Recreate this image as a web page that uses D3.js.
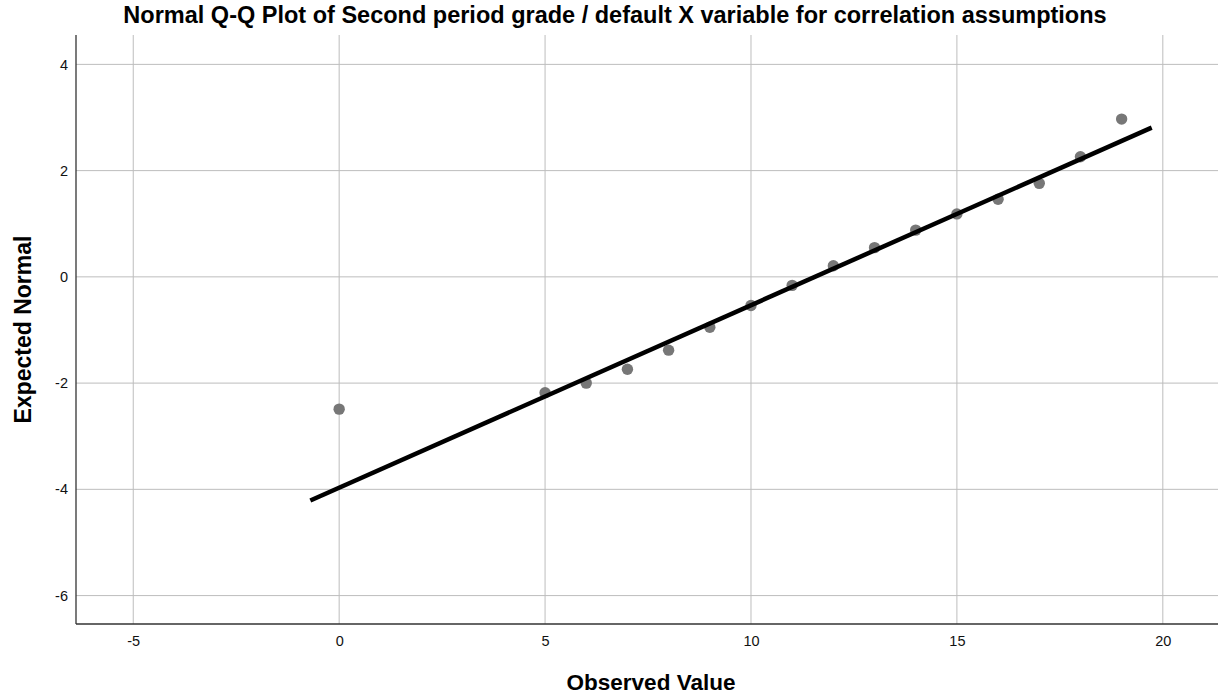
<!DOCTYPE html>
<html>
<head>
<meta charset="utf-8">
<script src="https://cdn.jsdelivr.net/npm/d3@7"></script>
<style>
  html, body { margin: 0; padding: 0; background: #fff; }
  svg { display: block; font-family: "Liberation Sans", Arial, sans-serif; }
</style>
</head>
<body>
<svg id="chart" width="1221" height="700"></svg>
<script>
// ---- data ----
const titleText = "Normal Q-Q Plot of Second period grade / default X variable for correlation assumptions";
const xLabel = "Observed Value";
const yLabel = "Expected Normal";
const observed = [0, 5, 6, 7, 8, 9, 10, 11, 12, 13, 14, 15, 16, 17, 18, 19];
const expectedNormal = [-2.49, -2.18, -2.00, -1.74, -1.38, -0.95, -0.54, -0.16, 0.21, 0.55, 0.88, 1.185, 1.46, 1.76, 2.26, 2.97];
const refLineObserved = [-0.7, 19.73];
const refLineExpected = [-4.21, 2.81];
const xTicks = [-5, 0, 5, 10, 15, 20];
const yTicks = [-6, -4, -2, 0, 2, 4];
const xDomain = [-6.39, 21.34];
const yDomain = [-6.535, 4.553];

// ---- layout ----
const plot = { left: 76, right: 1218, top: 35, bottom: 624 };
const svg = d3.select("#chart");
const x = d3.scaleLinear().domain(xDomain).range([plot.left, plot.right]);
const y = d3.scaleLinear().domain(yDomain).range([plot.bottom, plot.top]);

// gridlines
const grid = svg.append("g");
grid.selectAll("line.v").data(xTicks).enter().append("line")
  .attr("x1", d => x(d)).attr("x2", d => x(d))
  .attr("y1", plot.top).attr("y2", plot.bottom)
  .attr("stroke", "#bdbdbd").attr("stroke-width", 1);
grid.selectAll("line.h").data(yTicks).enter().append("line")
  .attr("x1", plot.left).attr("x2", plot.right)
  .attr("y1", d => y(d)).attr("y2", d => y(d))
  .attr("stroke", "#bdbdbd").attr("stroke-width", 1);

// axes
const fmt = d => String(d);
const xAxis = d3.axisBottom(x).tickValues(xTicks).tickSize(0).tickPadding(12).tickFormat(fmt);
const yAxis = d3.axisLeft(y).tickValues(yTicks).tickSize(0).tickPadding(8).tickFormat(fmt);
const gx = svg.append("g").attr("transform", `translate(0,${plot.bottom})`).call(xAxis);
const gy = svg.append("g").attr("transform", `translate(${plot.left},0)`).call(yAxis);
[gx, gy].forEach(g => {
  g.select(".domain").attr("stroke", "#333").attr("stroke-width", 1.3);
  g.selectAll("text").attr("font-size", 14.5).attr("fill", "#111")
    .attr("font-family", "'Liberation Sans', Arial, sans-serif");
});
gx.select(".domain").attr("d", `M${plot.left},0H${plot.right}`);
gy.select(".domain").attr("d", `M0,${plot.top}V${plot.bottom}`);

// points
svg.append("g").selectAll("circle").data(observed).enter().append("circle")
  .attr("cx", d => x(d))
  .attr("cy", (d, i) => y(expectedNormal[i]))
  .attr("r", 5.7)
  .attr("fill", "#777777");

// reference line
svg.append("line")
  .attr("x1", x(refLineObserved[0])).attr("y1", y(refLineExpected[0]))
  .attr("x2", x(refLineObserved[1])).attr("y2", y(refLineExpected[1]))
  .attr("stroke", "#000").attr("stroke-width", 4.5);

// title
svg.append("text")
  .attr("x", 615).attr("y", 23)
  .attr("text-anchor", "middle")
  .attr("font-size", 23.5).attr("font-weight", "bold").attr("fill", "#000")
  .text(titleText);

// axis titles
svg.append("text")
  .attr("x", (plot.left + plot.right) / 2 + 4).attr("y", 690)
  .attr("text-anchor", "middle")
  .attr("font-size", 22.5).attr("font-weight", "bold").attr("fill", "#000")
  .text(xLabel);
svg.append("text")
  .attr("transform", `translate(31,${(plot.top + plot.bottom) / 2}) rotate(-90)`)
  .attr("text-anchor", "middle")
  .attr("font-size", 23).attr("font-weight", "bold").attr("fill", "#000")
  .text(yLabel);
</script>
</body>
</html>
